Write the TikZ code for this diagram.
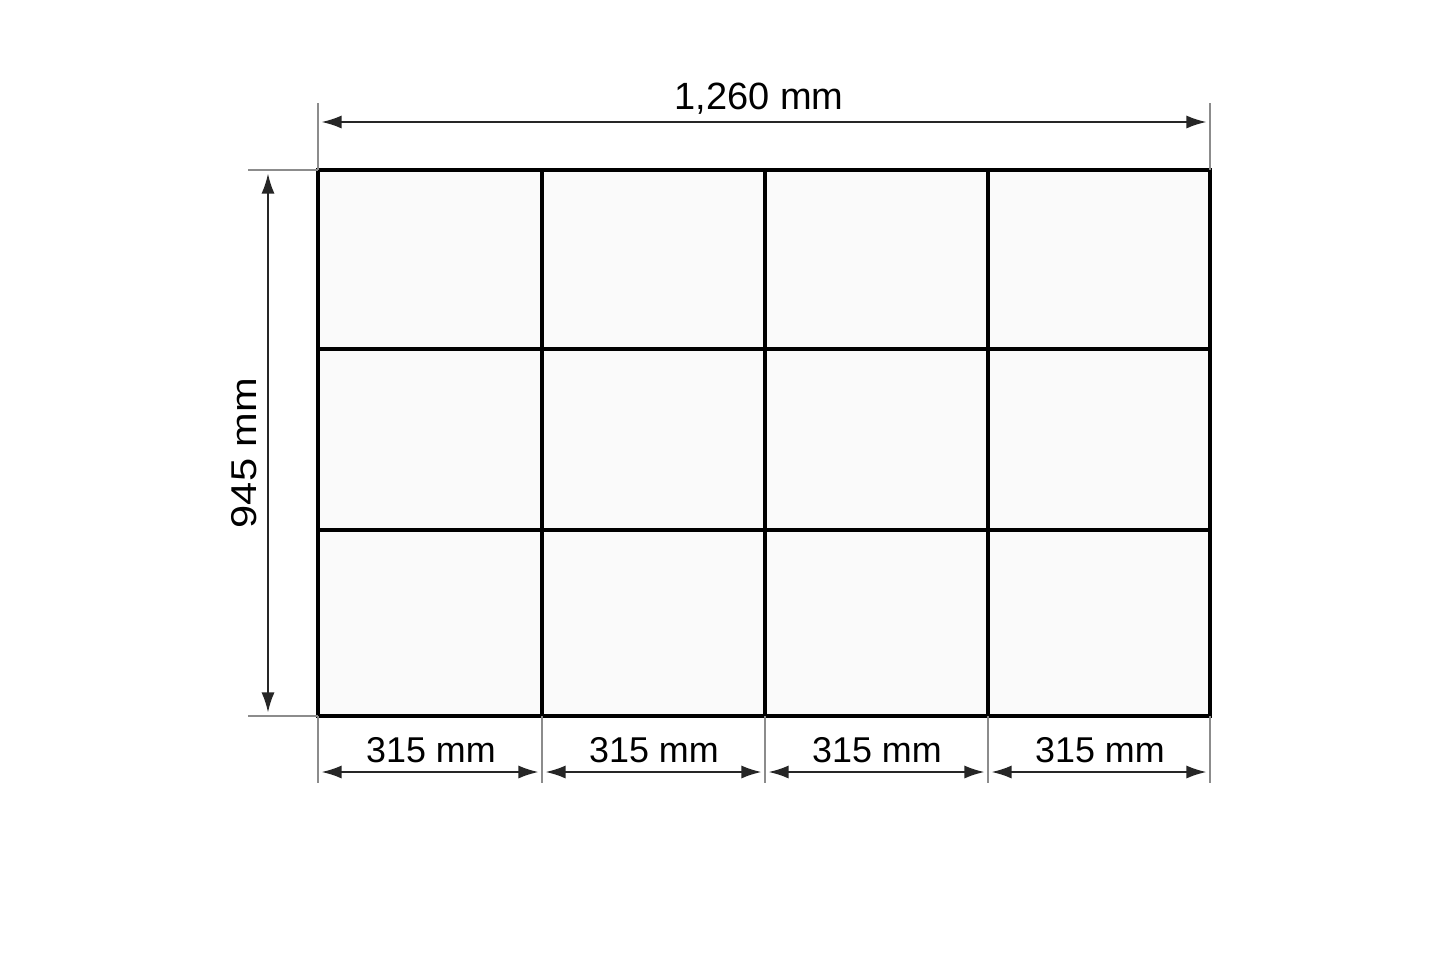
\documentclass[tikz,border=0pt]{standalone}
\usepackage{fontspec}
\setmainfont{Liberation Sans}
\usetikzlibrary{arrows.meta}
\begin{document}
\begin{tikzpicture}[x=0.01cm,y=-0.01cm,
  extline/.style={draw=black!45,line width=0.35pt},
  dimline/.style={draw=black!85,line width=0.55pt,{Latex[length=0.2cm,width=0.13cm]}-{Latex[length=0.2cm,width=0.13cm]}, shorten <=1pt, shorten >=1pt},
  cellfill/.style={fill=black!2},
  frameline/.style={line width=1.4pt},
  innerline/.style={line width=1.15pt},
  dimlabel/.style={inner sep=0pt,font=\fontsize{10.2}{12}\selectfont},
  toplabel/.style={inner sep=0pt,font=\fontsize{10.8}{13}\selectfont}]
\useasboundingbox[fill=white] (0,0) rectangle (1445,963);
% grid coordinates
\coordinate (c0t) at (318,170); \coordinate (c4t) at (1210,170);
\coordinate (c0b) at (318,716); \coordinate (c1b) at (542,716);
\coordinate (c2b) at (765,716); \coordinate (c3b) at (988,716);
\coordinate (c4b) at (1210,716);
\coordinate (c1t) at (542,170); \coordinate (c2t) at (765,170); \coordinate (c3t) at (988,170);
\coordinate (r1l) at (318,349); \coordinate (r1r) at (1210,349);
\coordinate (r2l) at (318,530); \coordinate (r2r) at (1210,530);
% cells
\fill[cellfill] (c0t) rectangle (c4b);
% inner lines
\draw[innerline] (c1t) -- (c1b);
\draw[innerline] (c2t) -- (c2b);
\draw[innerline] (c3t) -- (c3b);
\draw[innerline] (r1l) -- (r1r);
\draw[innerline] (r2l) -- (r2r);
% frame
\draw[frameline] (c0t) rectangle (c4b);
% top dimension
\coordinate (te0) at (318,103); \coordinate (te4) at (1210,103);
\draw[extline] (te0) -- (c0t);
\draw[extline] (te4) -- (c4t);
\coordinate (ta0) at (318,122); \coordinate (ta4) at (1210,122);
\draw[dimline] (ta0) -- (ta4);
\node[toplabel] (toptext) at (759,99) {1,260 mm};
% left dimension
\coordinate (le0) at (248,170); \coordinate (le1) at (248,716);
\draw[extline] (le0) -- (c0t);
\draw[extline] (le1) -- (c0b);
\coordinate (la0) at (268,170); \coordinate (la1) at (268,716);
\draw[dimline] (la0) -- (la1);
\node[dimlabel,rotate=90] (lefttext) at (244,453) {\scalebox{1.16}[1]{945 mm}};
% bottom dimensions
\foreach \i/\x in {0/318,1/542,2/765,3/988,4/1210}{
  \coordinate (be\i) at (\x,783);
  \coordinate (ba\i) at (\x,772);
  \draw[extline] (c\i b) -- (be\i);
}
\foreach \i/\j in {0/1,1/2,2/3,3/4}{
  \draw[dimline] (ba\i) -- (ba\j);
}
\node[dimlabel] (b1) at (431,750) {315 mm};
\node[dimlabel] (b2) at (654,750) {315 mm};
\node[dimlabel] (b3) at (877,750) {315 mm};
\node[dimlabel] (b4) at (1100,750) {315 mm};
\end{tikzpicture}
\end{document}
